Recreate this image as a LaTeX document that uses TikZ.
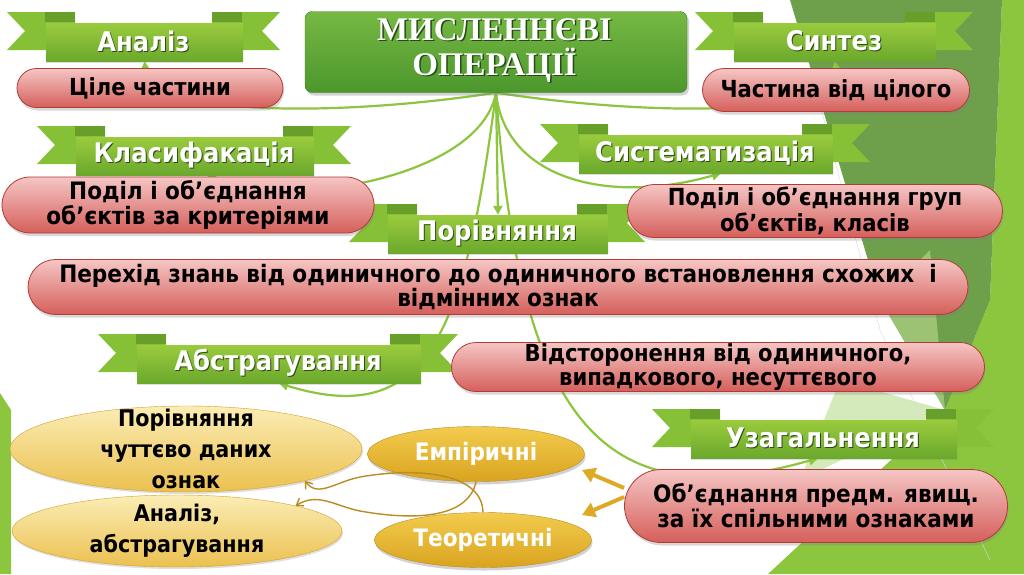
\documentclass[tikz,border=0pt]{standalone}
\usepackage{fontspec}
\setmainfont{DejaVu Sans}
\newfontfamily\narrowfont{DejaVu Sans Condensed}
\newfontfamily\titlefont{Liberation Serif}
\usetikzlibrary{shapes.misc,shapes.geometric,shadows,arrows.meta}

\definecolor{leafgreen}{HTML}{8CC63F}
\definecolor{ribbontop}{HTML}{9ACB3E}
\definecolor{ribbonbot}{HTML}{6BA82C}
\definecolor{tailgreen}{HTML}{86C036}
\definecolor{foldgreen}{HTML}{679F2A}
\definecolor{titletop}{HTML}{76B843}
\definecolor{titlebot}{HTML}{4C972D}
\definecolor{titleline}{HTML}{3E7D24}
\definecolor{pinktop}{HTML}{F5C6C4}
\definecolor{pinkbot}{HTML}{D55F5B}
\definecolor{pinkline}{HTML}{B23B36}
\definecolor{sandtop}{HTML}{FBEDB5}
\definecolor{sandbot}{HTML}{EBC04F}
\definecolor{sandline}{HTML}{D2A22B}
\definecolor{goldtop}{HTML}{F3CB4E}
\definecolor{goldbot}{HTML}{D9A41F}
\definecolor{goldline}{HTML}{B98D22}
\definecolor{bgolive}{HTML}{6E9F4B}
\definecolor{bgpale}{HTML}{B9DC8E}

\pgfdeclarelayer{bg}
\pgfdeclarelayer{wires}
\pgfsetlayers{bg,wires,main}

\tikzset{
  banner/.style={rectangle, inner sep=0pt, minimum height=38pt, top color=ribbontop, bottom color=ribbonbot,
    text=black!55!ribbonbot, font=\narrowfont\bfseries\fontsize{27}{30}\selectfont,
    drop shadow={opacity=.25, shadow xshift=0pt, shadow yshift=-2pt}},
  bannertext/.style={text=white, inner sep=0pt, font=\narrowfont\bfseries\fontsize{27}{30}\selectfont},
  tail/.style={fill=tailgreen},
  fold/.style={fill=foldgreen},
  titlebox/.style={rectangle, rounded corners=7pt, draw=titleline, top color=titletop, bottom color=titlebot,
    minimum width=382pt, minimum height=81pt, text=black!50!titlebot, align=center,
    font=\titlefont\bfseries\fontsize{33}{35}\selectfont,
    drop shadow={opacity=.35, shadow xshift=2pt, shadow yshift=-3pt}},
  titletext/.style={text=white, align=center, inner sep=0pt, font=\titlefont\bfseries\fontsize{33}{35}\selectfont},
  redbox/.style={rounded rectangle, draw=pinkline, line width=.8pt, top color=pinktop, bottom color=pinkbot,
    inner sep=0pt, align=center, font=\narrowfont\bfseries\fontsize{23.5}{26}\selectfont,
    drop shadow={opacity=.3, shadow xshift=1pt, shadow yshift=-3pt}},
  sandoval/.style={ellipse, draw=sandline, top color=sandtop, bottom color=sandbot, inner sep=0pt,
    drop shadow={opacity=.25, shadow xshift=1pt, shadow yshift=-2pt}},
  goldoval/.style={ellipse, draw=goldline, top color=goldtop, bottom color=goldbot, inner sep=0pt,
    drop shadow={opacity=.35, shadow xshift=1pt, shadow yshift=-3pt}},
  ovaltext/.style={align=center, font=\narrowfont\bfseries\fontsize{23}{31}\selectfont},
  whiteoval/.style={ovaltext, text=white, font=\narrowfont\bfseries\fontsize{24}{28}\selectfont},
  link/.style={leafgreen, line width=2.2pt, -{Triangle[length=9pt,width=9pt]}},
  goldlink/.style={goldline, line width=1.4pt, -{Straight Barb[length=6pt,width=9pt]}},
  goldarrow/.style={goldbot!85!goldtop, line width=4pt, -{Triangle[length=13pt,width=15pt]}},
}

% ribbon: name, x, y, half width, text
\newcommand{\ribbon}[5]{%
  \fill[tail] (#2-#4+30,#3-29) -- (#2-#4-38,#3-29) -- (#2-#4-20,#3-10) -- (#2-#4-38,#3+9) -- (#2-#4+30,#3+9) -- cycle;
  \fill[tail] (#2+#4-30,#3-29) -- (#2+#4+38,#3-29) -- (#2+#4+20,#3-10) -- (#2+#4+38,#3+9) -- (#2+#4-30,#3+9) -- cycle;
  \fill[fold] (#2-#4,#3-29) rectangle (#2-#4+30,#3-19);
  \fill[fold] (#2+#4,#3-29) rectangle (#2+#4-30,#3-19);
  \node[banner, minimum width=2*#4] (#1) at (#2+1,#3+1) {#5};
  \node[bannertext] at (#2,#3) {#5};
}

\begin{document}
\begin{tikzpicture}[x=1pt,y=-1pt]
\useasboundingbox (0,0) rectangle (1024,574);

% background facets
\begin{pgfonlayer}{bg}
  \fill[white] (0,0) rectangle (1024,574);
  \fill[leafgreen] (768,574) -- (945,410) -- (990,300) -- (1002,0) -- (1024,0) -- (1024,574) -- cycle;
  \fill[bgolive] (790,0) -- (1002,0) -- (990,300) -- (945,410) -- (880,300) -- cycle;
  \fill[bgpale, opacity=.6] (880,300) -- (945,410) -- (930,250) -- cycle;
  \fill[bgpale, opacity=.6] (840,380) -- (945,410) -- (800,480) -- cycle;
  \draw[black!15] (808,60) -- (880,330) -- (990,560);
  \fill[leafgreen] (0,393) -- (11,410) -- (11,574) -- (0,574) -- cycle;
\end{pgfonlayer}

\node[titlebox] (title) at (496,52) {МИСЛЕННЄВІ\\ОПЕРАЦІЇ};
\node[titletext] at ([xshift=-1.5pt,yshift=1.5pt]title.center) {МИСЛЕННЄВІ\\ОПЕРАЦІЇ};

\ribbon{analiz}{143.5}{41}{98.5}{Аналіз}
\ribbon{sintez}{834}{41}{101}{Синтез}
\ribbon{klas}{194}{155}{119}{Класифакація}
\ribbon{system}{705}{153}{127}{Систематизація}
\ribbon{porivn}{497}{233}{110}{Порівняння}
\ribbon{abstr}{278}{363}{142}{Абстрагування}
\ribbon{uzag}{823}{438}{133}{Узагальнення}

\node[redbox, minimum width=266pt, minimum height=39pt] (cile) at (150,88) {Ціле частини};
\node[redbox, minimum width=267pt, minimum height=43pt] (chast) at (836,90) {Частина від цілого};
\node[redbox, minimum width=372pt, minimum height=56pt, font=\narrowfont\bfseries\fontsize{24}{25}\selectfont] (podil) at (188,205)
  {Поділ і об’єднання\\об’єктів за критеріями};
\node[redbox, minimum width=375pt, minimum height=53pt] (grupy) at (815,211) {Поділ і об’єднання груп\\об’єктів, класів};
\node[redbox, minimum width=940pt, minimum height=55pt, font=\narrowfont\bfseries\fontsize{24}{24}\selectfont] (perehid) at (498,287)
  {Перехід знань від одиничного до одиничного встановлення схожих~ і\\відмінних ознак};
\node[redbox, minimum width=533pt, minimum height=49pt, font=\narrowfont\bfseries\fontsize{23.5}{24}\selectfont] (vidst) at (718,367)
  {Відсторонення від одиничного,\\випадкового, несуттєвого};
\node[redbox, minimum width=383pt, minimum height=73pt, font=\narrowfont\bfseries\fontsize{24}{25}\selectfont] (obyedn) at (816,506)
  {Об’єднання предм. явищ.\\за їх спільними ознаками};

\node[sandoval, minimum width=352pt, minimum height=86pt,
  label={[ovaltext]center:{Порівняння\\чуттєво даних\\ознак}}] (porEll) at (186,449) {};
\node[sandoval, minimum width=330pt, minimum height=72pt,
  label={[ovaltext]center:{Аналіз,\\абстрагування}}] (anEll) at (177,531) {};
\node[goldoval, minimum width=217pt, minimum height=55pt,
  label={[whiteoval]center:Емпіричні}] (emp) at (476,454) {};
\node[goldoval, minimum width=217pt, minimum height=55pt,
  label={[whiteoval]center:Теоретичні}] (teor) at (483,540) {};

% green links from the title
\begin{pgfonlayer}{wires}
  \draw[link] (title.south) .. controls (330,118) and (150,115) .. (analiz.south);
  \draw[link] (title.south) .. controls (662,118) and (842,115) .. (sintez.south);
  \draw[link] (title.south) .. controls (480,180) and (280,210) .. ([xshift=12pt]klas.south);
  \draw[link] (title.south) .. controls (505,180) and (610,205) .. ([xshift=15pt]system.south);
  \draw[link] (title.south) -- (porivn.north);
  \draw[link] (title.south) .. controls (465,330) and (430,430) .. (abstr.south);
  \draw[link] (title.south) .. controls (520,420) and (600,520) .. ([xshift=-6pt]uzag.south);
\end{pgfonlayer}

% gold arrows
\coordinate (empTip) at (582,470);
\coordinate (teorTip) at (582,515);
\draw[goldarrow] ([yshift=18pt]obyedn.west) -- (empTip);
\draw[goldarrow] ([yshift=9pt]obyedn.west) -- (teorTip);
\draw[goldlink] (emp.south) .. controls (468,520) and (410,520) .. (360,511) .. controls (335,506) and (318,492) .. (anEll.12);
\draw[goldlink] (teor.north) .. controls (482,470) and (410,468) .. (360,477) .. controls (335,482) and (318,498) .. (porEll.-15);
\end{tikzpicture}
\end{document}
